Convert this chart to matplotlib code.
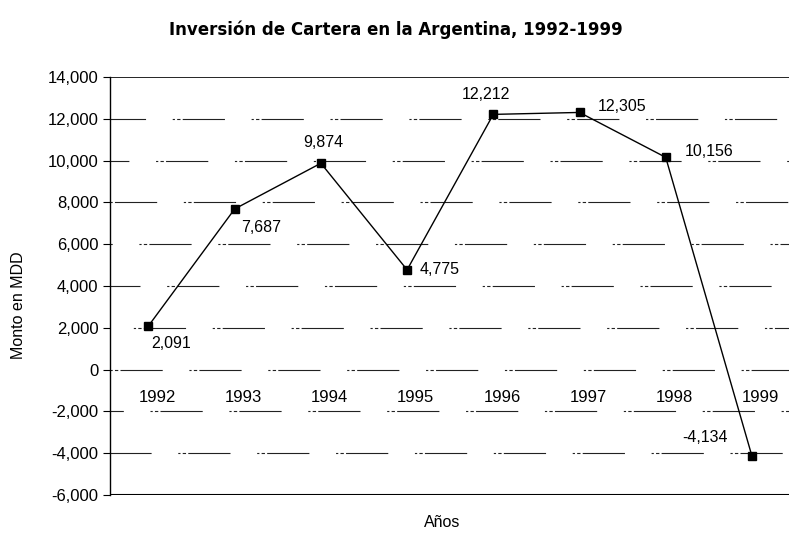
import matplotlib
matplotlib.use("Agg")
import matplotlib.pyplot as plt

# Data
years = ["1992", "1993", "1994", "1995", "1996", "1997", "1998", "1999"]
monto = [2091, 7687, 9874, 4775, 12212, 12305, 10156, -4134]
value_labels = ["2,091", "7,687", "9,874", "4,775", "12,212", "12,305", "10,156", "-4,134"]
yticks = list(range(-6000, 14001, 2000))

# label offsets in points (dx, dy, ha)
offsets = [(16, -13, "center"), (19, -13, "center"), (2, 15, "center"),
           (9, 0, "left"), (-5, 14, "center"), (13, 4, "left"),
           (14, 4, "left"), (-34, 13, "center")]

plt.rcParams["font.family"] = ["Liberation Sans", "DejaVu Sans"]

fig = plt.figure(figsize=(7.89, 5.33), dpi=100)
ax = fig.add_axes([0.139, 0.0713, 0.861, 0.7842])

x = list(range(len(years)))

# broken-looking gridlines, phase shifted row by row like the scan
dash = (2, 2, 3, 2, 38, 24)
phases = [10, 35, 0, 50, 20, 45, 5, 30, 15]
for v, ph in zip(yticks[1:-1], phases):
    ax.axhline(v, color="#222222", lw=0.8, linestyle=(ph, dash), zorder=1)
ax.axhline(14000, color="black", lw=1.2, zorder=2)
ax.axhline(-6000, color="black", lw=1.5, zorder=2)

ax.plot(x, monto, color="black", lw=1.0, marker="s", markersize=5.5,
        markerfacecolor="black", zorder=3)

for xi, yi, lab, (dx, dy, ha) in zip(x, monto, value_labels, offsets):
    ax.annotate(lab, (xi, yi), xytext=(dx, dy), textcoords="offset points",
                ha=ha, va="center", fontsize=11.5)

# year labels just under the zero line
for xi, yr in zip(x, years):
    ax.text(xi + 0.1, -1350, yr, ha="center", va="center", fontsize=12)

ax.set_xlim(-0.45, 7.43)
ax.set_ylim(-6000, 14000)
ax.set_yticks(yticks)
ax.set_yticklabels([f"{v:,}" for v in yticks], fontsize=12)
ax.set_xticks([])
ax.tick_params(axis="y", length=5, width=0.8, pad=3)

for s in ["top", "right", "bottom"]:
    ax.spines[s].set_visible(False)
ax.spines["left"].set_linewidth(1.0)

ax.set_ylabel("Monto en MDD", fontsize=11.5)
ax.yaxis.set_label_coords(-0.123, 0.455)
fig.text(0.56, 0.02, "Años", ha="center", va="center", fontsize=11.5)
fig.text(0.502, 0.945, "Inversión de Cartera en la Argentina, 1992-1999",
         ha="center", va="center", fontsize=12, fontweight="bold",
         family="DejaVu Sans")

fig.savefig("out.png", dpi=100)
